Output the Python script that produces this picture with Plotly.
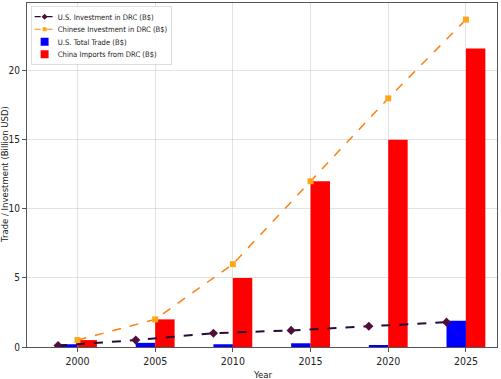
import plotly.graph_objects as go
import numpy as np

years = [2000, 2005, 2010, 2015, 2020, 2025]
us_trade = [0.2, 0.3, 0.2, 0.27, 0.14, 1.9]
china_imports = [0.5, 2.0, 5.0, 12.0, 15.0, 21.6]
us_invest = [0.1, 0.5, 1.0, 1.2, 1.5, 1.8]
cn_invest = [0.5, 2.0, 6.0, 12.0, 18.0, 23.7]
ytick_vals = [0, 5, 10, 15, 20]

w = 1.25
yrs = np.array(years, dtype=float)
NARROW = "Liberation Sans Narrow, DejaVu Sans Condensed, Arial Narrow, DejaVu Sans"

fig = go.Figure()
fig.add_trace(go.Scatter(x=yrs - w, y=us_invest, mode="lines+markers",
                         name="U.S. Investment in DRC (B$)",
                         line=dict(color="#260c36", dash="dash", width=2),
                         marker=dict(symbol="diamond", size=7, color="#4e0f3a")))
fig.add_trace(go.Scatter(x=yrs, y=cn_invest, mode="lines+markers",
                         name="Chinese Investment in DRC (B$)",
                         line=dict(color="#ff7f0e", dash="dash", width=1.5),
                         marker=dict(symbol="square", size=6, color="#ffa51a")))
fig.add_trace(go.Bar(x=yrs - w / 2, y=us_trade, width=w, name="U.S. Total Trade (B$)",
                     marker=dict(color="#0000ff", line=dict(width=0))))
fig.add_trace(go.Bar(x=yrs + w / 2, y=china_imports, width=w, name="China Imports from DRC (B$)",
                     marker=dict(color="#ff0000", line=dict(width=0))))

fig.update_layout(
    width=501, height=379,
    margin=dict(l=27, r=4, t=3, b=32, autoexpand=False),
    paper_bgcolor="white", plot_bgcolor="white",
    barmode="overlay",
    font=dict(family=NARROW, size=10, color="#222"),
    legend=dict(x=0.008, y=0.99, xref="paper", yref="paper", xanchor="left", yanchor="top",
                bgcolor="rgba(255,255,255,0.9)", bordercolor="#cccccc", borderwidth=1,
                font=dict(family=NARROW, size=11.5), tracegroupgap=0, itemwidth=30,
                traceorder="normal"),
    showlegend=True,
    annotations=[
        dict(text="Year", x=0.5, y=0, xref="paper", yref="paper", xanchor="center", yanchor="top",
             yshift=-20, showarrow=False, font=dict(family=NARROW, size=9.5)),
        dict(text="Trade / Investment (Billion USD)", x=0, y=0.5, xref="paper", yref="paper",
             xanchor="center", yanchor="middle", xshift=-22, textangle=-90, showarrow=False,
             font=dict(family="DejaVu Sans", size=8.5)),
    ],
)
fig.update_xaxes(range=[1996.75, 2027.0], tickvals=years, ticktext=[str(y) for y in years],
                 showgrid=True, gridcolor="rgba(190,190,190,0.45)", gridwidth=1,
                 showline=True, linecolor="#555", mirror=True, linewidth=1,
                 ticks="outside", ticklen=4, tickcolor="#555", automargin=False,
                 tickfont=dict(size=10.5),
                 zeroline=False, layer="above traces")
fig.update_yaxes(range=[0, 24.9], tickvals=ytick_vals,
                 showgrid=True, gridcolor="rgba(190,190,190,0.45)", gridwidth=1,
                 showline=True, linecolor="#555", mirror=True, linewidth=1,
                 ticks="outside", ticklen=4, tickcolor="#555", automargin=False,
                 tickfont=dict(size=10),
                 zeroline=False, layer="above traces")

post = """
document.body.style.margin='0';document.body.style.overflow='hidden';
var gd = document.getElementById('{plot_id}');
function shrinkLegend(){
  var lg = gd.querySelector('g.legend');
  if(lg){
    var t = (lg.getAttribute('transform')||'').replace(/\\s*scale\\([^)]*\\)/g,'');
    lg.setAttribute('transform', t + ' scale(0.66)');
  }
}
shrinkLegend();
if (gd.on) { gd.on('plotly_afterplot', shrinkLegend); }
"""
fig.write_html("out.html", config={"displayModeBar": False}, post_script=post)
